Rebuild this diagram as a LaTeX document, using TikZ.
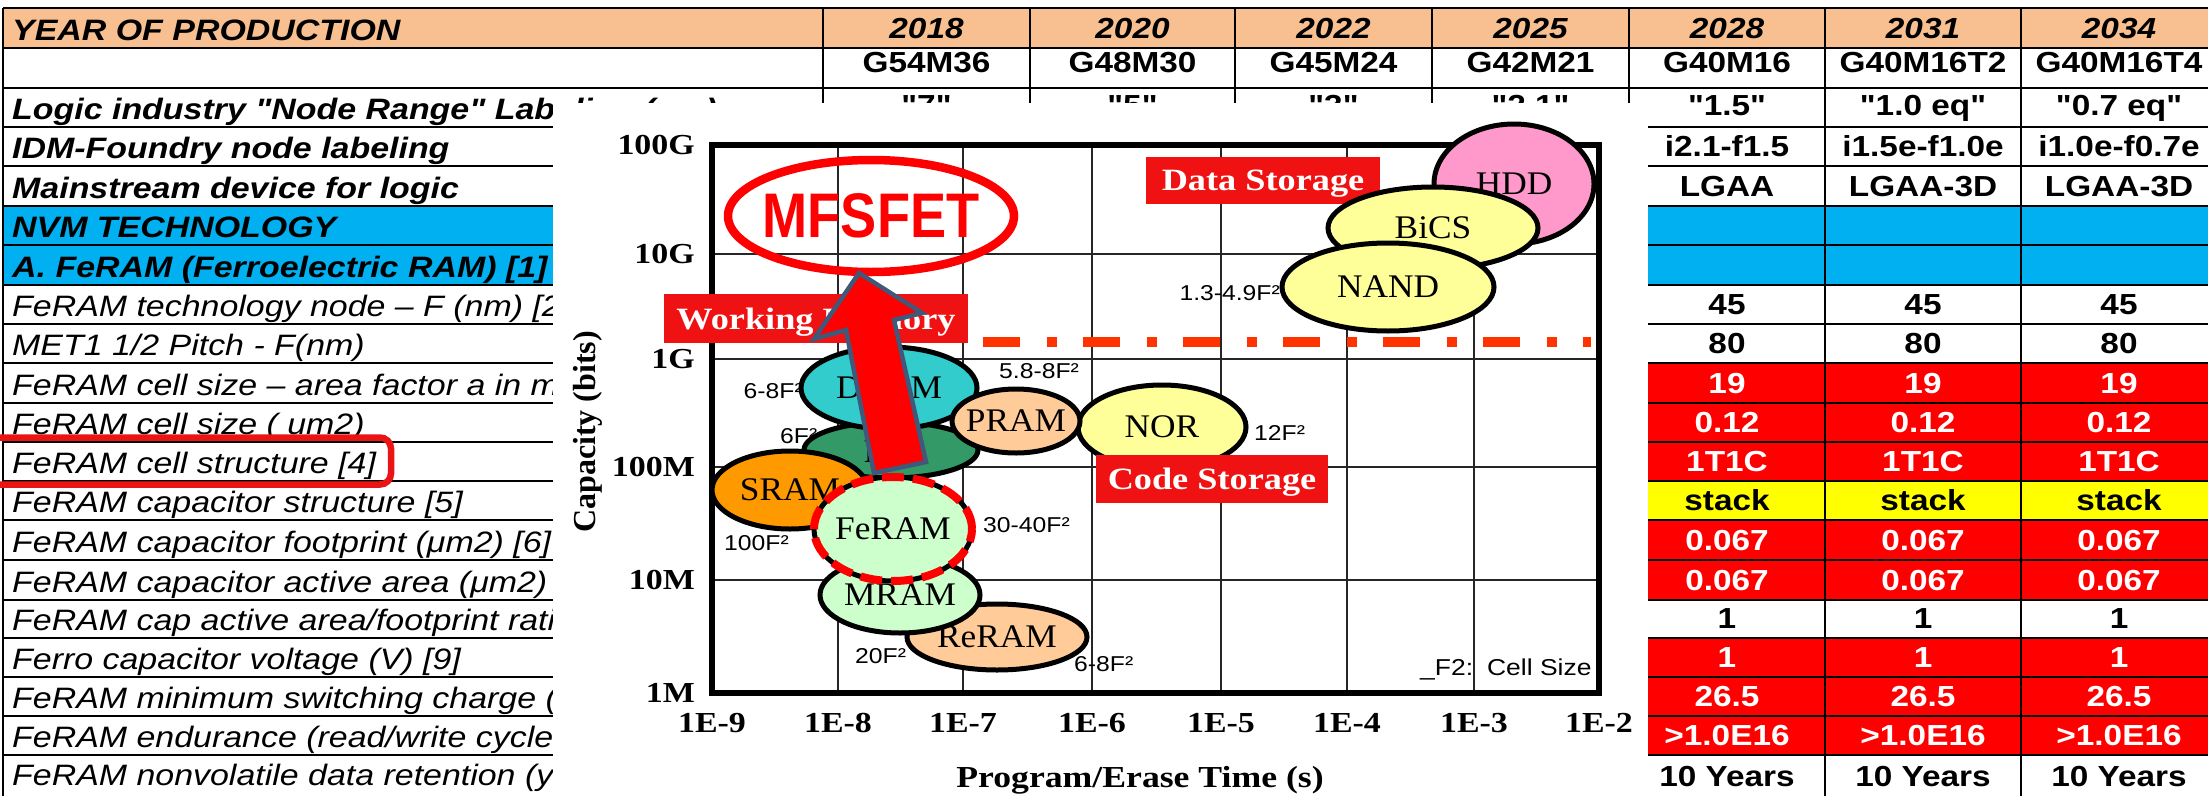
\documentclass[tikz,border=0pt]{standalone}
\usepackage{fontspec}
\setmainfont{Liberation Sans}
\usetikzlibrary{shapes.geometric}
\newfontfamily\tabfont{Liberation Sans}[FakeStretch=1.15]
\newfontfamily\axfont{Liberation Serif}[FakeStretch=1.17]
\newfontfamily\ellfont{Liberation Serif}[FakeStretch=1.07]
\newfontfamily\capfont{Liberation Serif}
\newfontfamily\mffont{Liberation Sans}[FakeStretch=0.86]

\definecolor{hdrorange}{RGB}{248,192,144}
\definecolor{nvmblue}{RGB}{0,176,240}
\definecolor{cellred}{RGB}{255,0,0}
\definecolor{cellyellow}{RGB}{255,255,0}
\definecolor{boxred}{RGB}{240,18,18}
\definecolor{dashred}{RGB}{255,51,0}
\definecolor{arrowedge}{RGB}{64,88,122}
\definecolor{hddpink}{RGB}{255,153,204}
\definecolor{nandyellow}{RGB}{255,255,153}
\definecolor{dramcyan}{RGB}{51,204,204}
\definecolor{fbcgreen}{RGB}{51,153,102}
\definecolor{pcmpeach}{RGB}{255,204,153}
\definecolor{sramorange}{RGB}{255,153,0}
\definecolor{palegreen}{RGB}{204,255,204}
\definecolor{hlred}{RGB}{235,20,20}

\tikzset{
  tabline/.style={line width=2pt, black},
  lab/.style={anchor=base west, inner sep=0pt, font=\tabfont\fontsize{29.5}{30}\selectfont\itshape},
  labb/.style={anchor=base west, inner sep=0pt, font=\tabfont\fontsize{29.5}{30}\selectfont\bfseries\itshape},
  val/.style={anchor=base, inner sep=0pt, font=\tabfont\fontsize{29}{30}\selectfont\bfseries},
  valw/.style={val, text=white},
  yearcell/.style={anchor=base, inner sep=0pt, font=\tabfont\fontsize{29}{30}\selectfont\bfseries\itshape},
  gridline/.style={line width=1.8pt, black!85},
  memcell/.style={ellipse, draw=black, line width=5pt, inner sep=0pt, font=\ellfont\fontsize{33}{34}\selectfont},
  tagbox/.style={fill=boxred, inner sep=0pt, text=white, text depth=0pt, font=\axfont\fontsize{31}{32}\selectfont\bfseries},
  tick/.style={inner sep=0pt, font=\axfont\fontsize{29}{30}\selectfont\bfseries},
  fsize/.style={inner sep=0pt, font=\tabfont\fontsize{21.5}{22}\selectfont},
}

% three identical cells in the 2028/2031/2034 columns
\newcommand\tripcell[4]{%
  \node[#2] (#1a) at (1727,#3) {#4};
  \node[#2] (#1b) at (1923,#3) {#4};
  \node[#2] (#1c) at (2119,#3) {#4};}

\begin{document}
\begin{tikzpicture}[x=1pt, y=-1pt]
\useasboundingbox (0,0) rectangle (2208,795);
\begin{scope}
\clip (0,0) rectangle (2208,795);

% ---------------- roadmap table ----------------
\foreach \t/\b/\lc/\vc in {8/48/hdrorange/hdrorange, 48/88/white/white, 88/127/white/white,
  127/166/white/white, 166/206/white/white, 206/245/nvmblue/nvmblue, 245/285/nvmblue/nvmblue,
  285/324/white/white, 324/363/white/white, 363/403/white/cellred, 403/442/white/cellred,
  442/481/white/cellred, 481/520/white/cellyellow, 520/560/white/cellred, 560/600/white/cellred,
  600/638/white/white, 638/677/white/cellred, 677/716/white/cellred, 716/755/white/cellred,
  755/795/white/white}{
  \fill[fill=\lc] (3,\t) rectangle (823,\b);
  \fill[fill=\vc] (823,\t) rectangle (2217,\b);
}
\foreach \y in {8,48,88,127,166,206,245,285,324,363,403,442,481,520,560,600,638,677,716,755}
  \draw[tabline] (3,\y) -- (2217,\y);
\foreach \x in {3,823,1030,1235,1432,1629,1825,2021}
  \draw[tabline] (\x,8) -- (\x,800);

% row labels
\node[labb] (lab1) at (12,40) {YEAR OF PRODUCTION};
\node[labb] (lab3) at (12,119) {Logic industry "Node Range" Labeling (nm)};
\node[labb] (lab4) at (12,158) {IDM-Foundry node labeling};
\node[labb] (lab5) at (12,198) {Mainstream device for logic};
\node[labb] (lab6) at (12,237) {NVM TECHNOLOGY};
\node[labb] (lab7) at (12,277) {A. FeRAM (Ferroelectric RAM) [1]};
\node[lab] (lab8) at (12,316) {FeRAM technology node – F (nm) [2};
\node[lab] (lab9) at (12,355) {MET1 1/2 Pitch - F(nm)};
\node[lab] (lab10) at (12,395) {FeRAM cell size – area factor a in m};
\node[lab] (lab11) at (12,434) {FeRAM cell size ( um2)};
\node[lab] (lab12) at (12,473) {FeRAM cell structure [4]};
\node[lab] (lab13) at (12,512) {FeRAM capacitor structure [5]};
\node[lab] (lab14) at (12,552) {FeRAM capacitor footprint (μm2) [6]};
\node[lab] (lab15) at (12,592) {FeRAM capacitor active area (μm2)};
\node[lab] (lab16) at (12,630) {FeRAM cap active area/footprint rati};
\node[lab] (lab17) at (12,669) {Ferro capacitor voltage (V) [9]};
\node[lab] (lab18) at (12,708) {FeRAM minimum switching charge (};
\node[lab] (lab19) at (12,747) {FeRAM endurance (read/write cycle};
\node[lab] (lab20) at (12,785) {FeRAM nonvolatile data retention (y};

% highlight round the cell-structure row
\node[draw=hlred, line width=6.5pt, rounded corners=11pt, minimum width=406pt,
      minimum height=47pt, inner sep=0pt] (hl) at (188,461) {};

% values
\foreach \cx/\v [count=\i] in {926.5/2018,1132.5/2020,1333.5/2022,1530.5/2025,1727/2028,1923/2031,2119/2034}
  \node[yearcell] (yr\i) at (\cx,38) {\v};
\foreach \cx/\v [count=\i] in {926.5/G54M36,1132.5/G48M30,1333.5/G45M24,1530.5/G42M21,1727/G40M16,1923/G40M16T2,2119/G40M16T4}
  \node[val] (gr\i) at (\cx,72) {\v};
\foreach \cx/\v [count=\i] in {926.5/"7",1132.5/"5",1333.5/"3",1530.5/"2.1",1727/"1.5",1923/"1.0 eq",2119/"0.7 eq"}
  \node[val] (nr\i) at (\cx,115) {\v};
\node[val] (idma) at (1727,156) {i2.1-f1.5};
\node[val] (idmb) at (1923,156) {i1.5e-f1.0e};
\node[val] (idmc) at (2119,156) {i1.0e-f0.7e};
\node[val] (dva) at (1727,196) {LGAA};
\node[val] (dvb) at (1923,196) {LGAA-3D};
\node[val] (dvc) at (2119,196) {LGAA-3D};
\tripcell{tn}{val}{314}{45}
\tripcell{mp}{val}{353}{80}
\tripcell{af}{valw}{393}{19}
\tripcell{cs}{valw}{432}{0.12}
\tripcell{st}{valw}{471}{1T1C}
\tripcell{cp}{val}{510}{stack}
\tripcell{fp}{valw}{550}{0.067}
\tripcell{aa}{valw}{590}{0.067}
\tripcell{rt}{val}{628}{1}
\tripcell{vo}{valw}{667}{1}
\tripcell{qs}{valw}{706}{26.5}
\tripcell{en}{valw}{745}{>1.0E16}
\tripcell{rn}{val}{786}{10 Years}

% ---------------- memory map chart ----------------
\fill[white] (553,103) rectangle (1648,800);

\foreach \x in {838,963,1092,1221,1347,1474}
  \draw[gridline] (\x,145) -- (\x,693);
\foreach \y in {254,359,467,580}
  \draw[gridline] (712,\y) -- (1599,\y);
\draw[line width=6pt] (712,145) rectangle (1599,693);

% axis ticks
\foreach \y/\t [count=\i] in {145/100G,254/10G,359/1G,467/100M,580/10M,693/1M}
  \node[tick, anchor=east] (yt\i) at (695,\y) {\t};
\foreach \x/\t [count=\i] in {712/1E-9,838/1E-8,963/1E-7,1092/1E-6,1221/1E-5,1347/1E-4,1474/1E-3,1599/1E-2}
  \node[tick] (xt\i) at (\x,723) {\t};
\node[inner sep=0pt, anchor=base, font=\axfont\fontsize{30.5}{31}\selectfont\bfseries]
  (xtitle) at (1140,787) {Program/Erase Time (s)};
\node[inner sep=0pt, rotate=90, font=\capfont\fontsize{32}{33}\selectfont\bfseries]
  (ytitle) at (588,432) {Capacity (bits)};

% category tags
\node[tagbox, minimum width=234pt, minimum height=47pt] (datatag) at (1263,180.5) {Data Storage};
\node[tagbox, minimum width=304pt, minimum height=49pt] (worktag) at (816,318.5) {Working Memory};

% boundary between working memory and storage
\coordinate (ddl) at (983,342);
\coordinate (ddr) at (1591,342);
\draw[dashred, line width=10pt, dash pattern=on 37pt off 27pt on 10pt off 26pt] (ddl) -- (ddr);

% cell size notes placed under the bubbles
\node[fsize, anchor=base east] (fnand) at (1280,300) {1.3-4.9F²};
\node[fsize, anchor=base east] (fdram) at (803,398) {6-8F²};
\node[fsize, anchor=base west] (ffbc) at (780,443) {6F²};

% storage bubbles
\node[memcell, fill=hddpink, minimum width=160pt, minimum height=120pt] (hdd) at (1514,184) {\makebox[0pt]{HDD}};
\node[memcell, fill=nandyellow, minimum width=210pt, minimum height=82pt] (bics) at (1433,228) {\makebox[0pt]{BiCS}};
\node[memcell, fill=nandyellow, minimum width=212pt, minimum height=88pt] (nand) at (1388,287) {\makebox[0pt]{NAND}};

% working memory and code bubbles
\node[memcell, fill=fbcgreen, minimum width=174pt, minimum height=56pt] (fbc) at (891,450) {};
\node[memcell, anchor=base west, draw=none, fill=none, minimum width=0pt, minimum height=0pt] (fbctext) at (857,462) {F};
\node[memcell, fill=dramcyan, minimum width=176pt, minimum height=82pt] (dram) at (889,388) {\makebox[0pt]{DRAM}};
\node[memcell, fill=nandyellow, minimum width=168pt, minimum height=84pt] (nor) at (1162,427) {\makebox[0pt]{NOR}};
\node[memcell, fill=pcmpeach, minimum width=128pt, minimum height=64pt] (pram) at (1016,421) {\makebox[0pt]{PRAM}};
\node[memcell, fill=sramorange, minimum width=156pt, minimum height=78pt] (sram) at (790,490) {\makebox[0pt]{SRAM}};
\node[memcell, fill=pcmpeach, minimum width=180pt, minimum height=66pt] (reram) at (997,637) {\makebox[0pt]{ReRAM}};
\node[memcell, fill=palegreen, minimum width=160pt, minimum height=76pt] (mram) at (900,595) {\makebox[0pt]{MRAM}};
\node[memcell, fill=palegreen, minimum width=158pt, minimum height=104pt] (feram) at (893,529) {\makebox[0pt]{FeRAM}};
\draw[cellred, line width=8pt, dash pattern=on 22pt off 9pt] (feram.center) ellipse [x radius=79pt, y radius=52pt];

\node[tagbox, minimum width=232pt, minimum height=48pt] (codetag) at (1212,479) {Code Storage};

% remaining cell size notes
\node[fsize, anchor=base west] (fpram) at (999,378) {5.8-8F²};
\node[fsize, anchor=base west] (fnor) at (1254,440) {12F²};
\node[fsize, anchor=base west] (fsram) at (724,550) {100F²};
\node[fsize, anchor=base west] (ffe) at (983,532) {30-40F²};
\node[fsize, anchor=base west] (fmram) at (855,663) {20F²};
\node[fsize, anchor=base west] (frer) at (1074,671) {6-8F²};
\node[inner sep=0pt, anchor=base west, font=\tabfont\fontsize{23}{24}\selectfont]
  (fnote) at (1420,675) {\_F2:\hspace{14pt}Cell Size};

% MFSFET target
\node[ellipse, draw=cellred, line width=8.5pt, minimum width=286pt, minimum height=112pt,
      inner sep=0pt, text=cellred, font=\mffont\fontsize{63}{64}\selectfont\bfseries]
  (mfsfet) at (871,216) {\makebox[0pt]{MFSFET}};

% block arrow from FeRAM up to MFSFET
\coordinate (atip) at (859,273);
\coordinate (arb) at (922,313);
\coordinate (ars) at (894,320);
\coordinate (arbot) at (926,462);
\coordinate (albot) at (874,473);
\coordinate (als) at (846,330);
\coordinate (alb) at (814,339);
\filldraw[fill=cellred, draw=arrowedge, line width=4.5pt, line join=miter]
  (atip) -- (arb) -- (ars) -- (arbot) -- (albot) -- (als) -- (alb) -- cycle;
\end{scope}
\end{tikzpicture}
\end{document}
